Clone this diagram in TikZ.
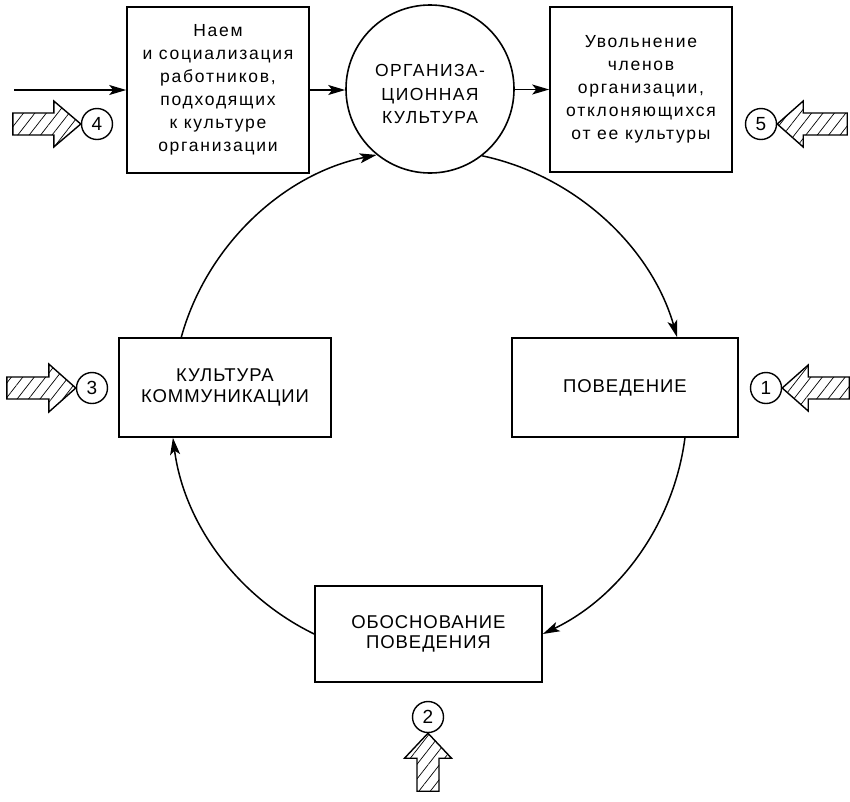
\documentclass[tikz,border=0pt]{standalone}
\usepackage{fontspec}
\setmainfont{Liberation Sans}
\newfontfamily\lowfont[LetterSpace=10]{Liberation Sans}
\newfontfamily\capfont[LetterSpace=5]{Liberation Sans}
\newfontfamily\orgfont[LetterSpace=8]{Liberation Sans}
\usetikzlibrary{arrows.meta,patterns.meta,calc}
\begin{document}
\begin{tikzpicture}[x=1pt,y=1pt,line width=1.6pt,
  box/.style={draw,rectangle,inner sep=0pt,align=center},
  lowtext/.style={font=\lowfont\fontsize{17.5}{23}\selectfont},
  captext/.style={font=\capfont\fontsize{18.5}{20.5}\selectfont},
  num/.style={draw,circle,minimum size=31pt,inner sep=0pt,line width=1.4pt,font=\fontsize{19}{19}\selectfont},
  arr/.style={-{Stealth[length=17pt,width=10pt,inset=4pt]},line width=1.5pt},
  hatch/.style={draw,line width=1.4pt,line join=miter,pattern={Lines[angle=52,distance=9pt,line width=0.7pt]}}]
\useasboundingbox (0,0) rectangle (850,-801);

% main nodes
\node[box,lowtext,minimum width=182pt,minimum height=166pt] (hire) at (218,-90)
  {Наем\\и социализация\\работников,\\подходящих\\к культуре\\организации};
\node[draw,circle,minimum size=168pt,inner sep=0pt] (org) at (430,-89) {};
\node[align=center,inner sep=0pt,font=\orgfont\fontsize{17.5}{23.5}\selectfont] (orgtext) at ($(org)+(0,-5)$)
  {ОРГАНИЗА-\\ЦИОННАЯ\\КУЛЬТУРА};
\node[box,lowtext,minimum width=182pt,minimum height=165pt] (fire) at (641,-89.5)
  {Увольнение\\членов\\организации,\\отклоняющихся\\от ее культуры};
\node[box,captext,minimum width=226pt,minimum height=99pt] (beh) at (625,-387.5) {ПОВЕДЕНИЕ};
\node[box,captext,minimum width=212pt,minimum height=99pt] (comm) at (225,-387.5) {КУЛЬТУРА\\КОММУНИКАЦИИ};
\node[box,captext,minimum width=227pt,minimum height=96pt] (just) at (428.5,-634) {ОБОСНОВАНИЕ\\ПОВЕДЕНИЯ};

% numbered circles
\node[num] (n4) at (97,-124) {4};
\node[num] (n5) at (761,-124) {5};
\node[num] (n1) at (766,-388) {1};
\node[num] (n3) at (92,-388) {3};
\node[num] (n2) at (428,-717) {2};

% straight arrows
\coordinate (in) at (14,-90);
\draw[arr] (in) -- (hire.west);
\draw[arr] (hire.east) -- (hire.east -| org.west);
\draw[arr] (org.east |- fire.west) -- (fire.west);

% cycle arcs
\draw[arr] (org.-52) to[bend left=31,looseness=0.91] (beh.44.7);
\draw[arr] (beh.-40) to[bend left=28.5,looseness=0.91] (just.east);
\draw[arr] (just.west) to[bend left=28.3,looseness=0.91] (comm.224.7);
\draw[arr] (comm.131) to[bend left=31.5,looseness=0.91] (org.231.7);

% hatched arrows
\draw[hatch] (n4.west) -- ++(-27,23) -- ++(0,-12) -- ++(-41,0) -- ++(0,-22) -- ++(41,0) -- ++(0,-12) -- cycle;
\draw[hatch] (n5.east) -- ++(26,23) -- ++(0,-12) -- ++(44,0) -- ++(0,-22) -- ++(-44,0) -- ++(0,-12) -- cycle;
\draw[hatch] (n1.east) -- ++(26,23) -- ++(0,-12) -- ++(41,0) -- ++(0,-22) -- ++(-41,0) -- ++(0,-12) -- cycle;
\draw[hatch] (n3.west) -- ++(-27,24) -- ++(0,-13) -- ++(-42,0) -- ++(0,-22) -- ++(42,0) -- ++(0,-13) -- cycle;
\draw[hatch] (n2.south) -- ++(-23.5,-25) -- ++(12.5,0) -- ++(0,-33) -- ++(22,0) -- ++(0,33) -- ++(12.5,0) -- cycle;
\end{tikzpicture}
\end{document}
